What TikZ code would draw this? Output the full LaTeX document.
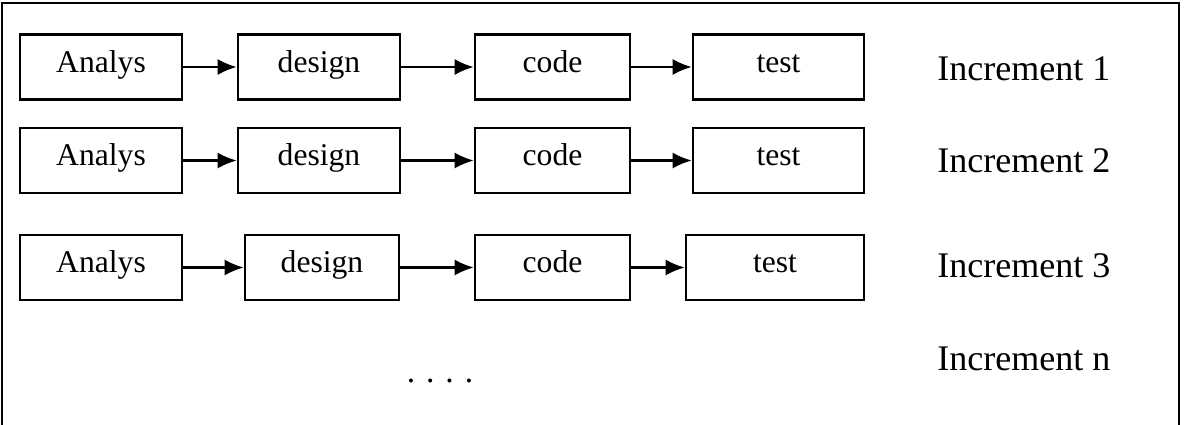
\documentclass[tikz,border=0pt]{standalone}
\usepackage{fontspec}
\setmainfont{Liberation Serif}
\usetikzlibrary{arrows.meta}

\begin{document}
\begin{tikzpicture}[
    phase/.style={draw, line width=1.5pt, minimum height=1.3cm, inner sep=0pt, text height=0.4cm, text depth=0.2cm, font=\fontsize{18}{20}\selectfont},
    increment/.style={anchor=base west, inner sep=0pt, font=\fontsize{20.5}{24}\selectfont},
    flow/.style={draw, line width=1.2pt, -{Latex[length=0.38cm, width=0.32cm]}}
    ]

    \useasboundingbox (0,0) rectangle (23.7,-8.48);
    \clip (0,0) rectangle (23.7,-8.48);
    \draw[line width=1.6pt] (0.04,-0.06) rectangle (23.58,-9);

    % Phases
    \node[phase, minimum width=3.24cm] (a1) at (2.02,-1.34) {Analys};
    \node[phase, minimum width=3.24cm] (d1) at (6.38,-1.34) {design};
    \node[phase, minimum width=3.1cm] (c1) at (11.05,-1.34) {code};
    \node[phase, minimum width=3.42cm] (t1) at (15.57,-1.34) {test};

    \node[phase, minimum width=3.24cm] (a2) at (2.02,-3.21) {Analys};
    \node[phase, minimum width=3.24cm] (d2) at (6.38,-3.21) {design};
    \node[phase, minimum width=3.1cm] (c2) at (11.05,-3.21) {code};
    \node[phase, minimum width=3.42cm] (t2) at (15.57,-3.21) {test};

    \node[phase, minimum width=3.24cm] (a3) at (2.02,-5.35) {Analys};
    \node[phase, minimum width=3.08cm] (d3) at (6.44,-5.35) {design};
    \node[phase, minimum width=3.1cm] (c3) at (11.05,-5.35) {code};
    \node[phase, minimum width=3.56cm] (t3) at (15.5,-5.35) {test};

    % Increments
    \node[increment] (i1) at (18.74,-1.6) {Increment 1};
    \node[increment] (i2) at (18.74,-3.44) {Increment 2};
    \node[increment] (i3) at (18.74,-5.54) {Increment 3};
    \node[increment] (in) at (18.74,-7.4) {Increment n};

    \node[inner sep=0pt, font=\fontsize{19}{22}\selectfont] (more) at (8.8,-7.62) {.\hspace{0.22cm}.\hspace{0.22cm}.\hspace{0.22cm}.};

    % Connections
    \foreach \r in {1,2,3} {
        \path[flow] (a\r) -- (d\r);
        \path[flow] (d\r) -- (c\r);
        \path[flow] (c\r) -- (t\r);
    }

\end{tikzpicture}
\end{document}
